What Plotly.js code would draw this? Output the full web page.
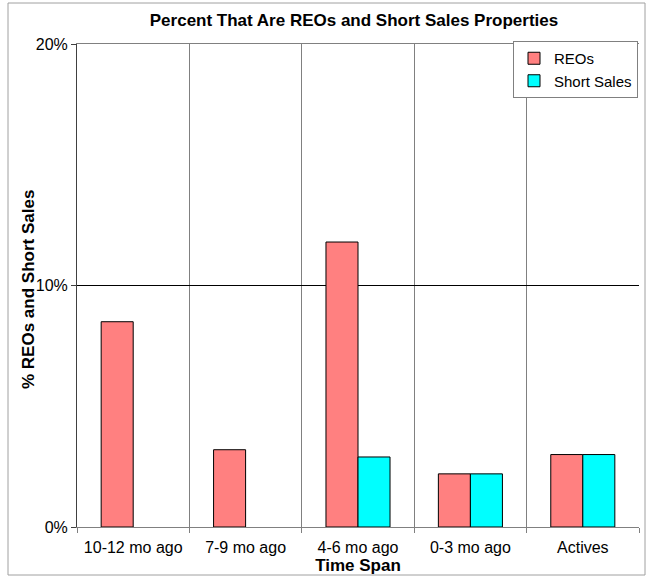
<!DOCTYPE html>
<html>
<head>
<meta charset="utf-8">
<script src="https://cdn.plot.ly/plotly-3.0.1.min.js"></script>
<style>html,body{margin:0;padding:0;background:#fff;}#chart{width:652px;height:578px;}</style>
</head>
<body>
<div id="chart"></div>
<script>
var categories = ["10-12 mo ago", "7-9 mo ago", "4-6 mo ago", "0-3 mo ago", "Actives"];
var reoValues = [8.5, 3.2, 11.8, 2.2, 3.0];
var shortSalesValues = [null, null, 2.9, 2.2, 3.0];
var yTickVals = [0, 10, 20];
var yTickText = ["0%", "10%", "20%"];

var L = 77, R = 639, T = 44, B = 527, W = 652, H = 578;
function px(x){ return (x - L) / (R - L); }
function py(y){ return (B - y) / (B - T); }

var font = "Liberation Sans, Arial, sans-serif";

var traces = [
  {type: "bar", name: "REOs", x: categories, y: reoValues, legendgroup: "a",
   marker: {color: "#FF8080", line: {color: "#000000", width: 1}}},
  {type: "bar", name: "Short Sales", x: categories, y: shortSalesValues, legendgroup: "b",
   marker: {color: "#00FFFF", line: {color: "#000000", width: 1}}}
];

var layout = {
  width: W, height: H,
  margin: {l: L, r: W - R, t: T, b: H - B, pad: 0},
  paper_bgcolor: "#ffffff", plot_bgcolor: "#ffffff",
  font: {family: font, size: 16, color: "#000000"},
  barmode: "group", bargap: 0.43, bargroupgap: 0,
  showlegend: true,
  title: {text: "<b>Percent That Are REOs and Short Sales Properties</b>",
    font: {family: font, size: 17, color: "#000000"},
    x: px(354), xref: "paper", xanchor: "center", y: 1 - 20 / H, yanchor: "middle"},
  xaxis: {
    type: "category", tickson: "boundaries", showgrid: true, gridcolor: "#808080", gridwidth: 1,
    showline: true, linecolor: "#808080", linewidth: 1, mirror: true,
    ticks: "outside", ticklen: 5, tickcolor: "#808080",
    tickfont: {family: font, size: 16, color: "#000000"},
    ticklabelstandoff: 6,
    title: {text: "<b>Time Span</b>", font: {family: font, size: 17, color: "#000000"}, standoff: 3},
    fixedrange: true
  },
  yaxis: {
    range: [0, 20], tickvals: yTickVals, ticktext: yTickText,
    showgrid: true, gridcolor: "#000000", gridwidth: 1, zeroline: false,
    showline: true, linecolor: "#404040", linewidth: 1,
    ticks: "outside", ticklen: 5, tickcolor: "#404040",
    tickfont: {family: font, size: 16, color: "#000000"},
    fixedrange: true
  },
  annotations: [
    {text: "<b>% REOs and Short Sales</b>", xref: "paper", yref: "paper",
     x: px(28), y: py(290), xanchor: "center", yanchor: "middle", textangle: -90,
     showarrow: false, font: {family: font, size: 17, color: "#000000"}}
  ],
  legend: {
    x: px(638), xanchor: "right", y: py(41), yanchor: "top",
    bgcolor: "#ffffff", bordercolor: "#808080", borderwidth: 1,
    font: {family: font, size: 15, color: "#000000"},
    itemwidth: 30,
    traceorder: "grouped", tracegroupgap: 0
  },
  shapes: [
    {type: "rect", xref: "paper", yref: "paper", x0: px(8), x1: px(645), y0: py(575), y1: py(3),
     line: {color: "#A0A0A0", width: 1}, fillcolor: "rgba(0,0,0,0)", layer: "below"}
  ]
};

Plotly.newPlot("chart", traces, layout, {staticPlot: true, displayModeBar: false});
</script>
</body>
</html>
